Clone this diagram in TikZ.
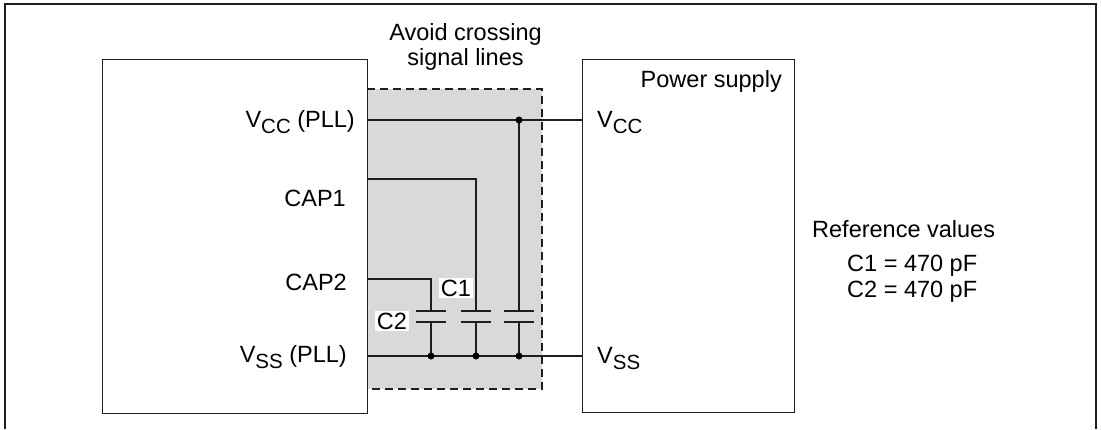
\documentclass[tikz,border=0pt]{standalone}
\usepackage{fontspec}
\setmainfont{Liberation Sans}
\definecolor{zonegray}{RGB}{217,217,217}
\definecolor{ink}{RGB}{30,30,30}
\newcommand{\subtxt}[1]{\raisebox{-6bp}{\fontsize{20.5bp}{22bp}\selectfont #1}}
\begin{document}
\begin{tikzpicture}[x=1bp,y=-1bp,
  every node/.style={font=\fontsize{23.5bp}{28bp}\selectfont, text=black},
  box/.style={draw=ink, line width=1.4bp, inner sep=0pt, anchor=north west},
  wire/.style={draw=ink, line width=1.2bp},
  plate/.style={draw=ink, line width=1.3bp},
  dot/.style={circle, fill=black, inner sep=0pt, minimum size=7bp},
  lbl/.style={inner sep=0pt},
  caplbl/.style={fill=white, inner sep=1.5bp}]
\useasboundingbox (0,0) rectangle (1101,429);
% outer frame (no bottom edge)
\draw[ink, line width=1.2bp] (5,429) -- (5,4) -- (1096,4) -- (1096,429);
% shaded zone
\fill[fill=zonegray] (367,89) rectangle (542,389);
\draw[ink, line width=1.1bp, dash pattern=on 8bp off 5bp] (367,89) -- (542,89) -- (542,389) -- (367,389);
% boxes
\node[box, minimum width=265bp, minimum height=354bp] (mcu) at (102,59) {};
\node[box, minimum width=212bp, minimum height=353bp] (psu) at (582,59) {};
% texts
\node[lbl, anchor=base] (avoid1) at (465.5,40) {Avoid crossing};
\node[lbl, anchor=base] (avoid2) at (465.5,65) {signal lines};
\node[lbl, anchor=base east] (pstxt) at (782,87) {Power supply};
\node[lbl, anchor=base east] (vccpll) at (355,127) {V\subtxt{CC} (PLL)};
\node[lbl, anchor=base east] (cap1t) at (346,206) {CAP1};
\node[lbl, anchor=base east] (cap2t) at (347,290) {CAP2};
\node[lbl, anchor=base east] (vsspll) at (347,362) {V\subtxt{SS} (PLL)};
\node[lbl, anchor=base west] (vcct) at (597,127) {V\subtxt{CC}};
\node[lbl, anchor=base west] (vsst) at (597,363) {V\subtxt{SS}};
\node[lbl, anchor=base west] (refv) at (812,237) {Reference values};
\node[lbl, anchor=base west] (refc1) at (847,271) {C1 = 470 pF};
\node[lbl, anchor=base west] (refc2) at (847,297) {C2 = 470 pF};
% coordinates
\coordinate (vccL) at (367,120);
\coordinate (vccR) at (582,120);
\coordinate (vssL) at (367,356);
\coordinate (vssR) at (582,356);
\coordinate (c1L) at (367,179);
\coordinate (c2L) at (367,279);
\coordinate (j3) at (519,120);
\coordinate (c2t) at (431,311);
\coordinate (c2b) at (431,322);
\coordinate (c1t) at (476,311);
\coordinate (c1b) at (476,322);
\coordinate (c3t) at (519,311);
\coordinate (c3b) at (519,322);
\coordinate (d2) at (431,356);
\coordinate (d1) at (476,356);
\coordinate (d3) at (519,356);
% wires
\draw[wire] (vccL) -- (vccR);
\draw[wire] (vssL) -- (vssR);
\draw[wire] (c1L) -| (c1t);
\draw[wire] (c2L) -| (c2t);
\draw[wire] (j3) -- (c3t);
\draw[wire] (c2b) -- (d2);
\draw[wire] (c1b) -- (d1);
\draw[wire] (c3b) -- (d3);
% plates
\foreach \p in {c1t,c1b,c2t,c2b,c3t,c3b}{
  \draw[plate] ([xshift=-15bp]\p) -- ([xshift=15bp]\p);
}
% junction dots
\node[dot] (dj3) at (j3) {};
\node[dot] (dd1) at (d1) {};
\node[dot] (dd2) at (d2) {};
\node[dot] (dd3) at (d3) {};
% capacitor labels
\node[caplbl] (c1lab) at (456,288) {C1};
\node[caplbl] (c2lab) at (392,321) {C2};
\end{tikzpicture}
\end{document}
